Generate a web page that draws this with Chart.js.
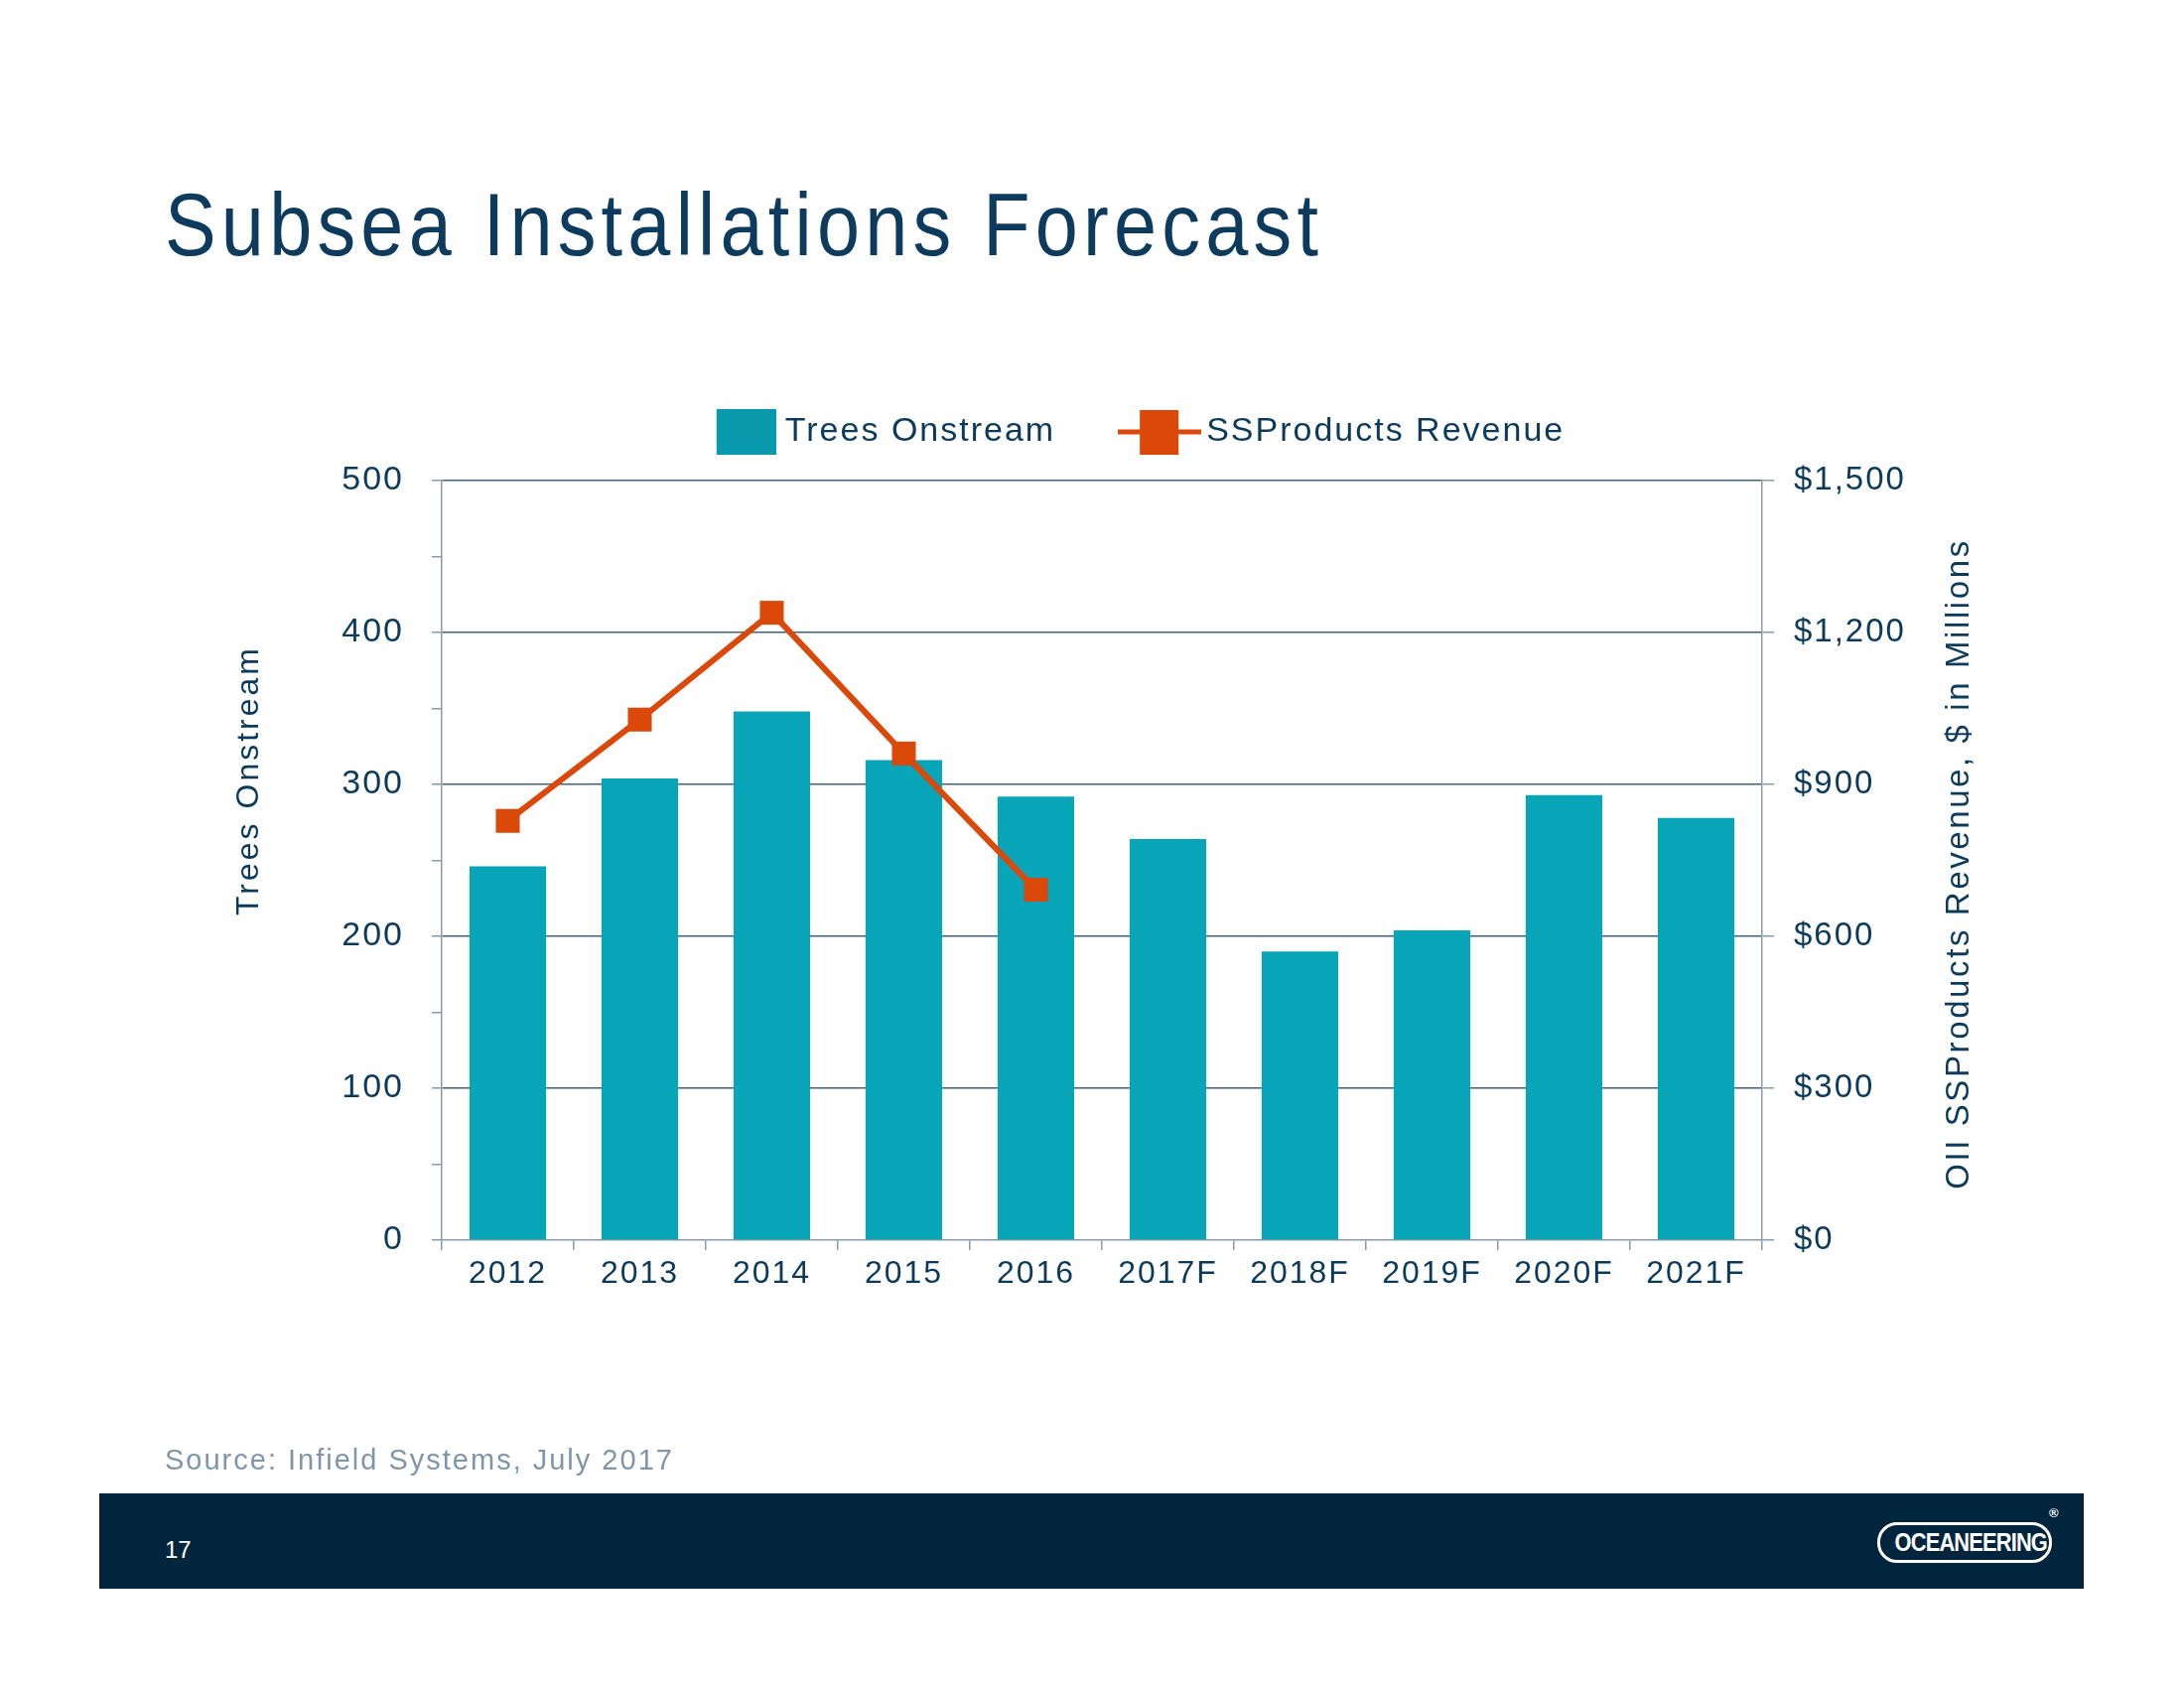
<!DOCTYPE html>
<html>
<head>
<meta charset="utf-8">
<script src="https://cdn.jsdelivr.net/npm/chart.js@4.4.1/dist/chart.umd.min.js"></script>
<style>
    html, body { margin: 0; padding: 0; background: #ffffff; }
    body { width: 2200px; height: 1700px; position: relative; overflow: hidden; font-family: "Liberation Sans", Arial, sans-serif; }
    #chartCanvas { position: absolute; left: 0; top: 0; }
    .slideTitle { position: absolute; left: 166px; top: 182px; font-size: 89px; line-height: 89px; color: #0d3b5e; letter-spacing: 6px; white-space: nowrap; transform: scaleX(0.87); transform-origin: left top; }
    .source { position: absolute; left: 166px; top: 1456px; font-size: 29px; line-height: 29px; color: #7f96a8; letter-spacing: 2px; white-space: nowrap; }
    .footer { position: absolute; left: 100px; top: 1504px; width: 1999px; height: 96px; background: #02253e; }
    .pageNum { position: absolute; left: 66px; top: 45px; font-size: 24px; line-height: 24px; color: #ffffff; }
    .logo { position: absolute; left: 1791px; top: 29px; width: 170px; height: 35px; border: 3px solid #ffffff; border-radius: 20px; text-align: center; overflow: hidden; }
    .logo span { display: inline-block; color: #ffffff; font-weight: bold; font-size: 26px; line-height: 35px; transform: scaleX(0.84); letter-spacing: -1px; }
    .reg { position: absolute; left: 1964px; top: 12px; color: #ffffff; font-size: 13px; font-weight: bold; }
</style>
</head>
<body>
<div class="slideTitle">Subsea Installations Forecast</div>
<canvas id="chartCanvas" width="2200" height="1700"></canvas>
<div class="source">Source: Infield Systems, July 2017</div>
<div class="footer">
    <div class="pageNum">17</div>
    <div class="logo"><span>OCEANEERING</span></div>
    <div class="reg">®</div>
</div>
<script>
// values
const categories = ['2012', '2013', '2014', '2015', '2016', '2017F', '2018F', '2019F', '2020F', '2021F'];
const treesOnstream = [246, 304, 348, 316, 292, 264, 190, 204, 293, 278];
const ssProductsRevenue = [828, 1028, 1239, 961, 692];

const treesLabel = 'Trees Onstream';
const revenueLabel = 'SSProducts Revenue';
const leftTitle = 'Trees Onstream';
const rightTitle = 'OII SSProducts Revenue, $ in Millions';

const navy = '#0b3a5a';
const teal = '#08a4b8';
const legendTeal = '#0899ac';
const orange = '#da480a';
const axisGray = '#8a9ba7';
const gridNavy = '#41627a';

// legend markers drawn once on small canvases
function makeBoxMarker() {
    const c = document.createElement('canvas');
    c.width = 76; c.height = 46;
    const g = c.getContext('2d');
    g.fillStyle = legendTeal;
    g.fillRect(16, 0, 60, 46);
    return c;
}

function makeLineMarker() {
    const c = document.createElement('canvas');
    c.width = 84; c.height = 45;
    const g = c.getContext('2d');
    g.fillStyle = orange;
    g.fillRect(0, 20, 84, 5);
    g.fillRect(22, 0, 39, 45);
    return c;
}

const boxMarker = makeBoxMarker();
const lineMarker = makeLineMarker();

const letterSpacing = {
    id: 'letterSpacing',
    beforeLayout(chart) { chart.ctx.letterSpacing = '2px'; },
    beforeDraw(chart) { chart.ctx.letterSpacing = '2px'; }
};

// axis titles (right one reads bottom to top, which the built-in title can't do)
const axisTitles = {
    id: 'axisTitles',
    afterDraw(chart) {
        const ctx = chart.ctx;
        const area = chart.chartArea;
        ctx.save();
        ctx.fillStyle = navy;
        ctx.textAlign = 'center';
        ctx.textBaseline = 'middle';

        ctx.font = '32px "Liberation Sans", Arial, sans-serif';
        ctx.letterSpacing = '3px';
        ctx.save();
        ctx.translate(area.left - 194, area.top + 302);
        ctx.rotate(-Math.PI / 2);
        ctx.fillText(leftTitle, 0, 0);
        ctx.restore();

        ctx.font = '33px "Liberation Sans", Arial, sans-serif';
        ctx.letterSpacing = '2.6px';
        ctx.translate(area.right + 199, area.top + 386);
        ctx.rotate(-Math.PI / 2);
        ctx.fillText(rightTitle, 0, 0);
        ctx.restore();
    }
};

Chart.defaults.font.family = '"Liberation Sans", Arial, sans-serif';
Chart.defaults.color = navy;

const ctx = document.getElementById('chartCanvas').getContext('2d');

const chart = new Chart(ctx, {
    type: 'bar',
    data: {
        labels: categories,
        datasets: [
            {
                type: 'bar',
                label: treesLabel,
                data: treesOnstream,
                backgroundColor: teal,
                yAxisID: 'y',
                barPercentage: 0.58,
                categoryPercentage: 1,
                order: 1
            },
            {
                type: 'line',
                label: revenueLabel,
                data: ssProductsRevenue,
                borderColor: orange,
                backgroundColor: orange,
                borderWidth: 6,
                pointStyle: 'rect',
                pointRadius: 17,
                pointBorderWidth: 0,
                pointBackgroundColor: orange,
                fill: false,
                tension: 0,
                yAxisID: 'y1',
                order: 0
            }
        ]
    },
    options: {
        responsive: false,
        animation: false,
        devicePixelRatio: 1,
        layout: {
            padding: { left: 295, right: 205, top: 343, bottom: 0 }
        },
        plugins: {
            legend: {
                position: 'top',
                labels: {
                    usePointStyle: true,
                    pointStyleWidth: 60,
                    padding: 75,
                    color: navy,
                    font: { size: 34 },
                    generateLabels: () => [
                        { text: treesLabel, pointStyle: boxMarker, datasetIndex: 0, lineWidth: 0, hidden: false, fontColor: navy },
                        { text: revenueLabel, pointStyle: lineMarker, datasetIndex: 1, lineWidth: 0, hidden: false, fontColor: navy }
                    ]
                }
            },
            // empty spacer between legend and plot
            subtitle: {
                display: true,
                text: ' ',
                weight: 500,
                font: { size: 10 },
                padding: { top: 7, bottom: 3 }
            },
            tooltip: { enabled: false }
        },
        scales: {
            x: {
                offset: true,
                grid: {
                    offset: true,
                    drawOnChartArea: false,
                    tickLength: 10,
                    tickColor: axisGray,
                    lineWidth: 1.5
                },
                border: { color: axisGray, width: 1.5 },
                ticks: { font: { size: 32 }, color: navy, padding: 5, maxRotation: 0 },
                afterFit: (scale) => { scale.height = 451; }
            },
            y: {
                position: 'left',
                min: 0,
                max: 500,
                ticks: {
                    stepSize: 50,
                    font: { size: 34 },
                    color: navy,
                    padding: 28,
                    callback: (v) => (v % 100 === 0 ? v : '')
                },
                grid: {
                    color: (c) => (c.tick && c.tick.value % 100 === 0 && c.tick.value > 0 ? gridNavy : 'transparent'),
                    tickColor: axisGray,
                    lineWidth: 1.5,
                    tickLength: 10
                },
                border: { color: axisGray, width: 1.5 },
                afterFit: (scale) => { scale.width = 150; }
            },
            y1: {
                position: 'right',
                min: 0,
                max: 1500,
                ticks: {
                    stepSize: 300,
                    font: { size: 33 },
                    color: navy,
                    padding: 20,
                    callback: (v) => '$' + v.toLocaleString('en-US')
                },
                grid: {
                    drawOnChartArea: false,
                    tickColor: axisGray,
                    tickLength: 12,
                    lineWidth: 1.5
                },
                border: { color: axisGray, width: 1.5 },
                afterFit: (scale) => { scale.width = 220; }
            }
        }
    },
    plugins: [letterSpacing, axisTitles]
});
</script>
</body>
</html>
